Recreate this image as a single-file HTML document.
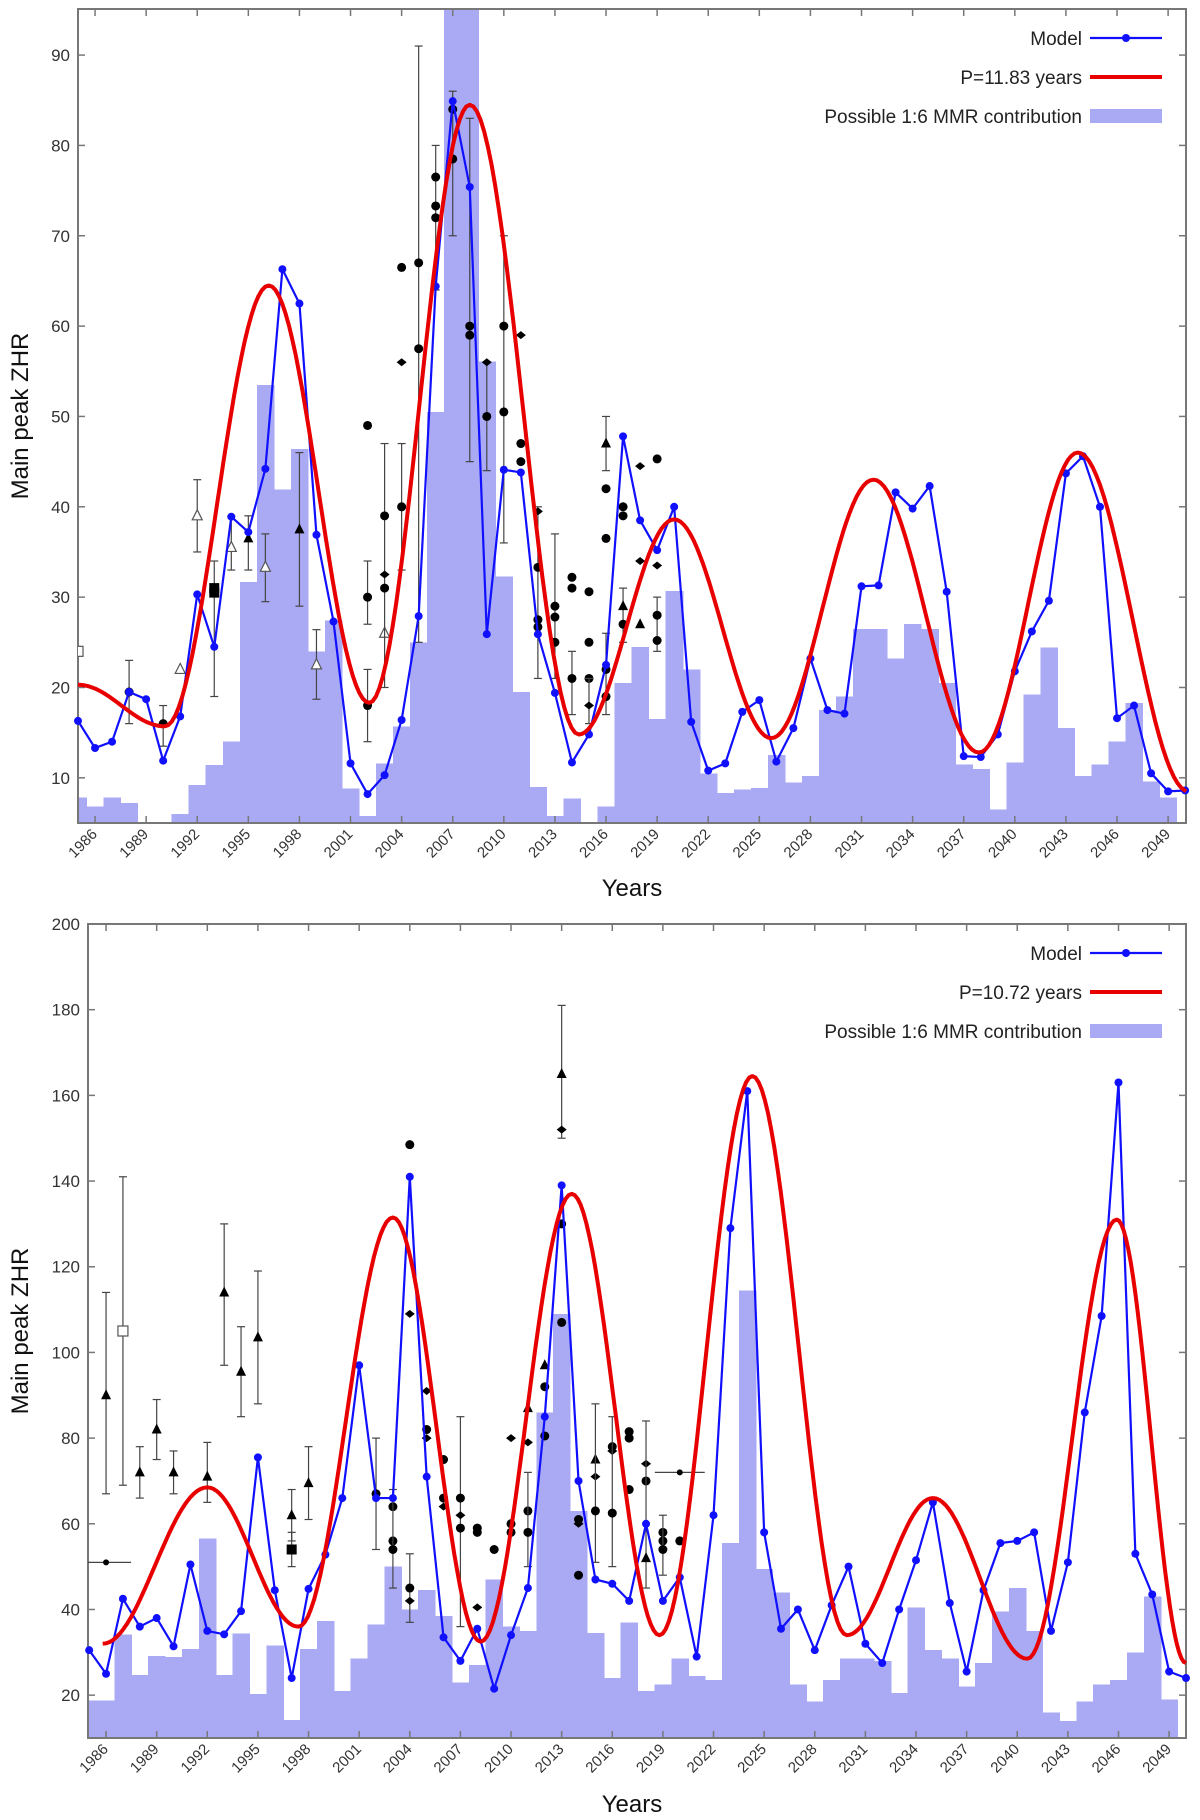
<!DOCTYPE html>
<html><head><meta charset="utf-8">
<style>
html,body{margin:0;padding:0;background:#fff;}
svg{display:block;font-family:"Liberation Sans",sans-serif;}
</style></head>
<body>
<svg id="fig" width="1200" height="1820" viewBox="0 0 1200 1820" xmlns="http://www.w3.org/2000/svg"></svg>
<script>
// ---------- TOP CHART DATA ----------
const topYears = [1985,1986,1987,1988,1989,1990,1991,1992,1993,1994,1995,1996,1997,1998,1999,2000,2001,2002,2003,2004,2005,2006,2007,2008,2009,2010,2011,2012,2013,2014,2015,2016,2017,2018,2019,2020,2021,2022,2023,2024,2025,2026,2027,2028,2029,2030,2031,2032,2033,2034,2035,2036,2037,2038,2039,2040,2041,2042,2043,2044,2045,2046,2047,2048,2049,2050];
const topModel = [16.3,13.3,14,19.5,18.7,11.9,16.8,30.3,24.5,38.9,37.2,44.2,66.3,62.5,36.9,27.3,11.6,8.2,10.3,16.4,27.9,64.4,84.9,75.4,25.9,44.1,43.8,25.9,19.4,11.7,14.8,22.5,47.8,38.5,35.2,40,16.2,10.8,11.6,17.3,18.6,11.8,15.5,23.2,17.5,17.1,31.2,31.3,41.6,39.8,42.3,30.6,12.4,12.3,14.8,21.8,26.2,29.6,43.7,45.6,40,16.6,18,10.5,8.5,8.6];
const topBars = [7.8,6.8,7.8,7.2,5,5,6,9.2,11.4,14,31.7,53.5,41.9,46.4,24,27.4,8.8,5.8,11.6,15.7,25,50.5,99,99,56.1,32.3,19.5,9,5.8,7.7,5,6.8,20.5,24.5,16.5,30.7,22,10.5,8.3,8.7,8.9,12.5,9.5,10.2,17.5,19,26.5,26.5,23.2,27,26.5,20.5,11.5,11,6.5,11.7,19.2,24.4,15.5,10.2,11.5,14,18.3,9.6,7.8,5];
const topFitX = [1985,1990.1,1996.2,2002.1,2008,2014.4,2020,2025.7,2031.7,2037.9,2043.7,2050.2];
const topFitY = [20.3,15.7,64.5,18.3,84.5,14.8,38.6,14.4,43,12.8,46,8.5];
const topYTicks = [10,20,30,40,50,60,70,80,90];
const topObsYear = [1985,1988,1990,1991,1992,1993,1993,1994,1995,1996,1998,1999,2002,2002,2002,2003,2003,2003,2003,2004,2004,2004,2005,2005,2006,2006,2006,2007,2007,2008,2008,2009,2009,2010,2010,2011,2011,2011,2012,2012,2012,2012,2013,2013,2013,2014,2014,2014,2015,2015,2015,2015,2016,2016,2016,2016,2016,2017,2017,2017,2017,2018,2018,2018,2019,2019,2019,2019];
const topObsVal = [24,19.5,16,22,39,31,30.5,35.5,36.5,33.3,37.5,22.5,30,49,18,26,39,32.5,31,66.5,56,40,67,57.5,76.5,73.3,72,84,78.5,60,59,50,56,60,50.5,59,47,45,39.5,33.3,27.5,26.7,29,27.8,25,32.2,31,21,30.6,25,21,18,47,42,36.5,22,19,40,39,29,27,44.5,34,27,45.3,33.5,28,25.2];
const topObsLo = [null,16,13.5,null,35,19,null,33,33,29.5,29,18.7,27,null,14,null,20,null,null,null,null,33,25,null,64,null,null,70,null,45,null,44,null,36,null,null,null,null,21,null,null,null,21,null,null,null,null,17,null,null,null,16,44,null,null,17,null,null,null,25,null,null,null,null,null,null,24,null];
const topObsHi = [null,23,18,null,43,34,null,39,39,37,46,26.4,34,null,22,null,47,null,null,null,null,47,91,null,80,null,null,86,null,83,null,56,null,70,null,null,null,null,40,null,null,null,37,null,null,null,null,24,null,null,null,21,50,null,null,26,null,null,null,31,null,null,null,null,null,null,30,null];
const topObsType = ["os","c","c","ot","ot","s","s","ot","t","ot","t","ot","c","c","c","ot","c","d","c","c","d","c","c","c","c","c","c","c","c","c","c","c","d","c","c","d","c","c","d","c","c","c","c","c","c","c","c","c","c","c","c","d","t","c","c","c","c","c","c","t","c","d","d","t","c","d","c","c"];

// ---------- BOTTOM CHART DATA ----------
const botYears = topYears;
const botModel = [30.5,25,42.5,36,38,31.4,50.5,35,34.2,39.6,75.5,44.5,24,44.8,52.8,66,97,66,66,141,71,33.5,28,35.5,21.5,34,45,85,139,70,47,46,42,60,42,47.5,29,62,129,161,58,35.5,40,30.5,41,50,32,27.5,40,51.5,65,41.5,25.5,44.5,55.5,56,58,35,51,86,108.5,163,53,43.5,25.5,24];
const botBars = [18.8,18.8,34.2,24.7,29.1,28.9,30.8,56.6,24.7,34.4,20.3,31.6,14.2,30.8,37.3,21,28.5,36.5,50,40,44.5,38.5,23,27,47,36,35,86,109,63,34.5,24,37,21,22.5,28.5,24.5,23.5,55.5,114.5,49.5,44,22.5,18.5,23.5,28.5,28.5,28,20.5,40.5,30.5,28.5,22,27.5,39.5,45,35,16,14,18.5,22.5,23.5,30,43,19,10];
const botFitX = [1985.8,1992,1997.4,2003,2008.2,2013.6,2018.8,2024.3,2029.9,2035,2040.6,2045.9,2050];
const botFitY = [32,68.5,36,131.5,32.5,137,34,164.5,34,66,28.5,131,27.5];
const botYTicks = [20,40,60,80,100,120,140,160,180,200];
const botObsYear = [1986,1986,1987,1988,1989,1990,1992,1993,1994,1995,1997,1997,1998,2002,2003,2003,2003,2004,2004,2004,2004,2005,2005,2005,2006,2006,2006,2007,2007,2007,2008,2008,2008,2009,2010,2010,2010,2011,2011,2011,2011,2012,2012,2012,2013,2013,2013,2013,2014,2014,2014,2015,2015,2015,2016,2016,2016,2017,2017,2017,2018,2018,2018,2019,2019,2019,2020,2020];
const botObsVal = [51,90,105,72,82,72,71,114,95.5,103.5,54,62,69.5,67,64,56,54,148.5,109,45,42,91,82,80,75,66,64,66,62,59,59,58,40.5,54,80,60,58,87,79,63,58,97,92,80.5,165,152,130,107,61,60,48,75,71,63,78,77,62.5,81.5,80,68,74,70,52,58,56,54,72,56];
const botObsLo = [null,67,69,66,75,67,65,97,85,88,50,56,61,54,null,null,45,null,null,37,null,null,null,null,null,null,null,36,null,null,null,null,null,null,null,null,null,null,null,null,50,null,null,null,150,null,null,null,null,null,null,null,null,51,null,null,50,null,null,null,null,null,45,null,null,48,null,null];
const botObsHi = [null,114,141,78,89,77,79,130,106,119,58,68,78,80,null,null,68,null,null,53,null,null,null,null,null,null,null,85,null,null,null,null,null,null,null,null,null,null,null,null,72,null,null,null,181,null,null,null,null,null,null,null,null,88,null,null,85,null,null,null,null,null,84,null,null,62,null,null];
const botObsType = ["x","t","os","t","t","t","t","t","t","t","s","t","t","c","c","c","c","c","d","c","d","d","c","d","c","c","d","c","d","c","c","c","d","c","d","c","c","t","d","c","c","t","c","c","t","d","c","c","c","d","c","t","d","c","c","d","c","c","c","c","d","c","t","c","c","c","x","c"];

const xTickYears = [1986,1989,1992,1995,1998,2001,2004,2007,2010,2013,2016,2019,2022,2025,2028,2031,2034,2037,2040,2043,2046,2049];

const NS = "http://www.w3.org/2000/svg";
const svg = document.getElementById('fig');
function mk(tag, attrs, parent){
  const e = document.createElementNS(NS, tag);
  for (const k in attrs) e.setAttribute(k, attrs[k]);
  (parent||svg).appendChild(e);
  return e;
}

function drawChart(c){
  const g = mk('g', {});
  
  
  const X = v => c.left + (v - c.xmin) / (c.xmax - c.xmin) * (c.right - c.left);
  const Y = v => c.bottom - (v - c.ymin) / (c.ymax - c.ymin) * (c.bottom - c.top);
  const clipId = c.name + '-clip';
  const defs = mk('defs', {}, g);
  const cp = mk('clipPath', {id: clipId}, defs);
  mk('rect', {x: c.left, y: c.top, width: c.right - c.left, height: c.bottom - c.top}, cp);

  // bars
  const bg = mk('g', {'clip-path': 'url(#' + clipId + ')'}, g);
  
  
  c.years.forEach((yr, i) => {
    const v = c.bars[i];
    if (v <= c.ymin) return;
    const x0 = X(yr - 0.5), x1 = X(yr + 0.5);
    const r = mk('rect', {x: x0, y: Y(v), width: x1 - x0 + 0.6, height: c.bottom - Y(v), fill: '#aaaaf4', 'shape-rendering': 'crispEdges'}, bg);
    
    
  });

  // axes frame
  const fr = mk('rect', {x: c.left, y: c.top, width: c.right - c.left, height: c.bottom - c.top, fill: 'none', stroke: '#777', 'stroke-width': 2}, g);
  
  

  // y ticks
  c.yTicks.forEach(v => {
    mk('line', {x1: c.left, x2: c.left + 7, y1: Y(v), y2: Y(v), stroke: '#777', 'stroke-width': 1.5}, g);
    mk('line', {x1: c.right, x2: c.right - 7, y1: Y(v), y2: Y(v), stroke: '#777', 'stroke-width': 1.5}, g);
    const t = mk('text', {x: c.left - 8, y: Y(v) + 6, 'text-anchor': 'end', 'font-size': 17, fill: '#333'}, g);
    t.textContent = v;
    
    
  });
  // x ticks
  xTickYears.forEach(yr => {
    const x = X(yr);
    mk('line', {x1: x, x2: x, y1: c.bottom, y2: c.bottom - 7, stroke: '#777', 'stroke-width': 1.5}, g);
    mk('line', {x1: x, x2: x, y1: c.top, y2: c.top + 7, stroke: '#777', 'stroke-width': 1.5}, g);
    const t = mk('text', {x: x + 3, y: c.bottom + 12, 'text-anchor': 'end', 'font-size': 15, fill: '#333', transform: 'rotate(-45 ' + (x + 3) + ' ' + (c.bottom + 12) + ')'}, g);
    t.textContent = yr;
    
    
  });

  // observations
  const og = mk('g', {'clip-path': 'url(#' + clipId + ')'}, g);
  
  
  c.obsYear.forEach((yr, i) => {
    const x = X(yr), y = Y(c.obsVal[i]);
    if (c.obsLo[i] !== null) {
      const y0 = Y(c.obsLo[i]), y1 = Y(c.obsHi[i]);
      mk('line', {x1: x, x2: x, y1: y0, y2: y1, stroke: '#444', 'stroke-width': 1.2}, og);
      mk('line', {x1: x - 4, x2: x + 4, y1: y0, y2: y0, stroke: '#444', 'stroke-width': 1.2}, og);
      mk('line', {x1: x - 4, x2: x + 4, y1: y1, y2: y1, stroke: '#444', 'stroke-width': 1.2}, og);
    }
    const tp = c.obsType[i];
    let m;
    if (tp === 'c') m = mk('circle', {cx: x, cy: y, r: 4.5, fill: '#000'}, og);
    else if (tp === 'd') m = mk('path', {d: `M${x-5},${y}L${x},${y-4}L${x+5},${y}L${x},${y+4}Z`, fill: '#000'}, og);
    else if (tp === 's') m = mk('rect', {x: x - 5, y: y - 5, width: 10, height: 10, fill: '#000'}, og);
    else if (tp === 'os') m = mk('rect', {x: x - 5, y: y - 5, width: 10, height: 10, fill: '#fff', stroke: '#555', 'stroke-width': 1.2}, og);
    else if (tp === 't') m = mk('path', {d: `M${x},${y-6}L${x+5},${y+4}L${x-5},${y+4}Z`, fill: '#000'}, og);
    else if (tp === 'ot') m = mk('path', {d: `M${x},${y-6}L${x+5},${y+4}L${x-5},${y+4}Z`, fill: '#fff', stroke: '#555', 'stroke-width': 1.2}, og);
    else {
      mk('line', {x1: x - 25, x2: x + 25, y1: y, y2: y, stroke: '#444', 'stroke-width': 1.2}, og);
      m = mk('circle', {cx: x, cy: y, r: 3, fill: '#000'}, og);
    }
    
    
  });

  // model line
  const pts = c.years.map((yr, i) => X(yr) + ',' + Y(c.model[i])).join(' ');
  const ml = mk('polyline', {points: pts, fill: 'none', stroke: '#1010ff', 'stroke-width': 2.2}, g);
  
  
  c.years.forEach((yr, i) => {
    const d = mk('circle', {cx: X(yr), cy: Y(c.model[i]), r: 4, fill: '#1010ff'}, g);
    
    
  });

  // fit curve (cosine interpolation between extrema)
  let fp = [];
  for (let k = 0; k < c.fitX.length - 1; k++) {
    const xa = c.fitX[k], xb = c.fitX[k + 1], ya = c.fitY[k], yb = c.fitY[k + 1];
    const n = 30;
    for (let s = 0; s <= n; s++) {
      const t = s / n;
      const xv = Math.min(xa + (xb - xa) * t, c.xmax);
      const yv = ya + (yb - ya) * (1 - Math.cos(Math.PI * t)) / 2;
      fp.push(X(xv).toFixed(1) + ',' + Y(yv).toFixed(1));
    }
  }
  const fl = mk('polyline', {points: fp.join(' '), fill: 'none', stroke: '#e80000', 'stroke-width': 4, 'stroke-linejoin': 'round'}, g);
  
  

  // legend
  const lg = mk('g', {}, g);
  
  
  const rows = [['Model', 'model'], [c.fitLabel, 'fit'], ['Possible 1:6 MMR contribution', 'bar']];
  rows.forEach((r, i) => {
    const yy = c.legendY + i * 39;
    const t = mk('text', {x: 1082, y: yy + 7, 'text-anchor': 'end', 'font-size': 19, fill: '#222'}, lg);
    t.textContent = r[0];
    
    
    if (r[1] === 'model') {
      mk('line', {x1: 1090, x2: 1162, y1: yy, y2: yy, stroke: '#1010ff', 'stroke-width': 2.2}, lg);
      mk('circle', {cx: 1126, cy: yy, r: 4, fill: '#1010ff'}, lg);
    } else if (r[1] === 'fit') {
      mk('line', {x1: 1090, x2: 1162, y1: yy, y2: yy, stroke: '#e80000', 'stroke-width': 4}, lg);
    } else {
      mk('rect', {x: 1090, y: yy - 7, width: 72, height: 14, fill: '#aaaaf4'}, lg);
    }
  });

  // axis titles
  const cy = (c.top + c.bottom) / 2;
  const yt = mk('text', {x: 28, y: cy, 'text-anchor': 'middle', 'font-size': 24, fill: '#111', transform: 'rotate(-90 28 ' + cy + ')'}, g);
  yt.textContent = 'Main peak ZHR';
  
  
  const xt = mk('text', {x: 632, y: c.xTitleY, 'text-anchor': 'middle', 'font-size': 24, fill: '#111'}, g);
  xt.textContent = 'Years';
  
  
}

drawChart({name: 'top-chart', left: 78, right: 1186, top: 9, bottom: 823, xmin: 1985, xmax: 2050.05, ymin: 5, ymax: 95.1,
  years: topYears, model: topModel, bars: topBars, fitX: topFitX, fitY: topFitY, yTicks: topYTicks,
  obsYear: topObsYear, obsVal: topObsVal, obsLo: topObsLo, obsHi: topObsHi, obsType: topObsType,
  fitLabel: 'P=11.83 years', legendY: 38, xTitleY: 896});
drawChart({name: 'bottom-chart', left: 88, right: 1186, top: 924, bottom: 1738, xmin: 1984.93, xmax: 2050.0, ymin: 10, ymax: 200,
  years: botYears, model: botModel, bars: botBars, fitX: botFitX, fitY: botFitY, yTicks: botYTicks,
  obsYear: botObsYear, obsVal: botObsVal, obsLo: botObsLo, obsHi: botObsHi, obsType: botObsType,
  fitLabel: 'P=10.72 years', legendY: 953, xTitleY: 1812});
</script>
</body></html>
